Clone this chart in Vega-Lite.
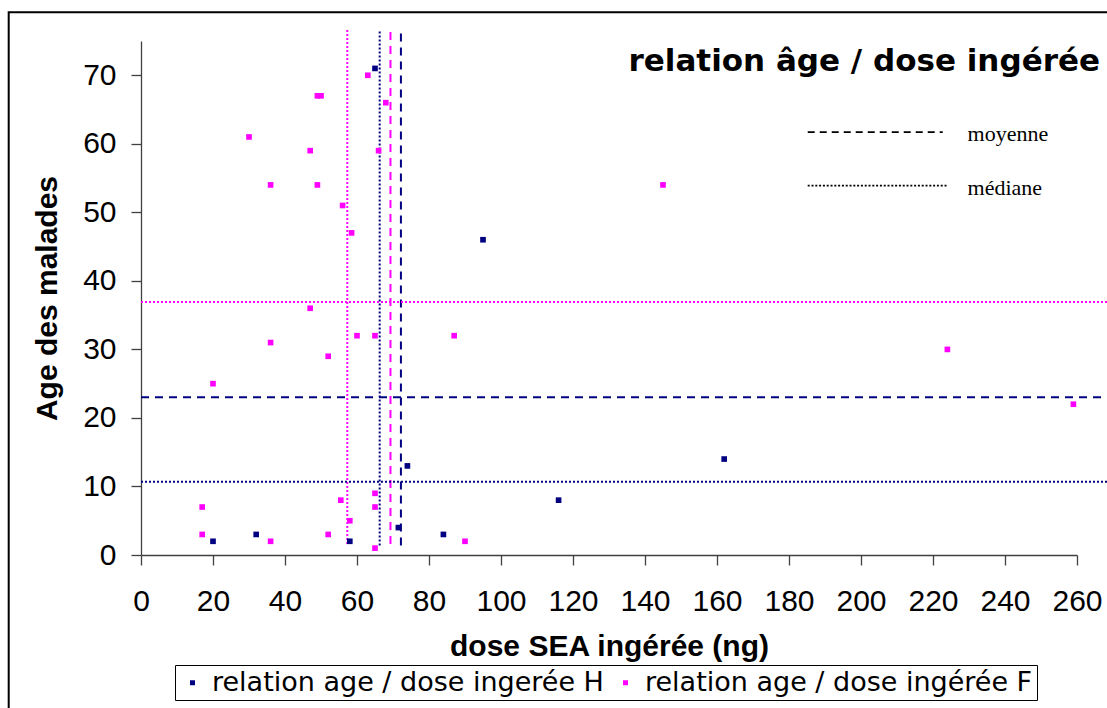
{
  "$schema": "https://vega.github.io/schema/vega-lite/v6.json",
  "width": 936,
  "height": 514,
  "autosize": {"type": "none"},
  "padding": {"left": 141, "top": 41, "right": 30, "bottom": 153},
  "background": "white",
  "config": {
    "view": {"stroke": null},
    "axis": {
      "grid": false,
      "domainColor": "#404040",
      "domainWidth": 1.3,
      "tickColor": "#404040",
      "tickWidth": 1.3,
      "tickSize": 10,
      "labelFont": "Liberation Sans",
      "labelFontSize": 30,
      "labelColor": "black",
      "titleFont": "Liberation Sans",
      "titleFontSize": 30,
      "titleFontWeight": "bold",
      "titleColor": "black"
    }
  },
  "datasets": {
    "points": [
      {"dose": 65, "age": 71, "serie": "relation age / dose ingerée H"},
      {"dose": 95, "age": 46, "serie": "relation age / dose ingerée H"},
      {"dose": 74, "age": 13, "serie": "relation age / dose ingerée H"},
      {"dose": 162, "age": 14, "serie": "relation age / dose ingerée H"},
      {"dose": 116, "age": 8, "serie": "relation age / dose ingerée H"},
      {"dose": 71.5, "age": 4, "serie": "relation age / dose ingerée H"},
      {"dose": 32, "age": 3, "serie": "relation age / dose ingerée H"},
      {"dose": 84, "age": 3, "serie": "relation age / dose ingerée H"},
      {"dose": 20, "age": 2, "serie": "relation age / dose ingerée H"},
      {"dose": 58, "age": 2, "serie": "relation age / dose ingerée H"},
      {"dose": 63, "age": 70, "serie": "relation age / dose ingérée F"},
      {"dose": 49, "age": 67, "serie": "relation age / dose ingérée F"},
      {"dose": 50, "age": 67, "serie": "relation age / dose ingérée F"},
      {"dose": 68, "age": 66, "serie": "relation age / dose ingérée F"},
      {"dose": 30, "age": 61, "serie": "relation age / dose ingérée F"},
      {"dose": 47, "age": 59, "serie": "relation age / dose ingérée F"},
      {"dose": 66, "age": 59, "serie": "relation age / dose ingérée F"},
      {"dose": 36, "age": 54, "serie": "relation age / dose ingérée F"},
      {"dose": 49, "age": 54, "serie": "relation age / dose ingérée F"},
      {"dose": 56, "age": 51, "serie": "relation age / dose ingérée F"},
      {"dose": 58.5, "age": 47, "serie": "relation age / dose ingérée F"},
      {"dose": 145, "age": 54, "serie": "relation age / dose ingérée F"},
      {"dose": 47, "age": 36, "serie": "relation age / dose ingérée F"},
      {"dose": 60, "age": 32, "serie": "relation age / dose ingérée F"},
      {"dose": 65, "age": 32, "serie": "relation age / dose ingérée F"},
      {"dose": 87, "age": 32, "serie": "relation age / dose ingérée F"},
      {"dose": 36, "age": 31, "serie": "relation age / dose ingérée F"},
      {"dose": 52, "age": 29, "serie": "relation age / dose ingérée F"},
      {"dose": 20, "age": 25, "serie": "relation age / dose ingérée F"},
      {"dose": 65, "age": 9, "serie": "relation age / dose ingérée F"},
      {"dose": 55.5, "age": 8, "serie": "relation age / dose ingérée F"},
      {"dose": 17, "age": 7, "serie": "relation age / dose ingérée F"},
      {"dose": 65, "age": 7, "serie": "relation age / dose ingérée F"},
      {"dose": 58, "age": 5, "serie": "relation age / dose ingérée F"},
      {"dose": 17, "age": 3, "serie": "relation age / dose ingérée F"},
      {"dose": 52, "age": 3, "serie": "relation age / dose ingérée F"},
      {"dose": 36, "age": 2, "serie": "relation age / dose ingérée F"},
      {"dose": 90, "age": 2, "serie": "relation age / dose ingérée F"},
      {"dose": 65, "age": 1, "serie": "relation age / dose ingérée F"},
      {"dose": 224, "age": 30, "serie": "relation age / dose ingérée F"},
      {"dose": 259, "age": 22, "serie": "relation age / dose ingérée F"}
    ],
    "stats": [
      {"sexe": "H", "stat": "moyenne", "axe": "dose", "valeur": 72.2},
      {"sexe": "H", "stat": "médiane", "axe": "dose", "valeur": 66.3},
      {"sexe": "F", "stat": "moyenne", "axe": "dose", "valeur": 69.3},
      {"sexe": "F", "stat": "médiane", "axe": "dose", "valeur": 57.3},
      {"sexe": "H", "stat": "moyenne", "axe": "age", "valeur": 23.0},
      {"sexe": "H", "stat": "médiane", "axe": "age", "valeur": 10.7},
      {"sexe": "F", "stat": "médiane", "axe": "age", "valeur": 36.9}
    ],
    "one": [{}]
  },
  "layer": [
    {
      "data": {"name": "one"},
      "mark": {"type": "rect", "fill": null, "stroke": "black", "strokeWidth": 2, "clip": false},
      "encoding": {
        "x": {"datum": -36.75, "type": "quantitative"},
        "x2": {"datum": 285},
        "y": {"datum": 79.2, "type": "quantitative"},
        "y2": {"datum": -30}
      }
    },
    {
      "data": {"name": "stats"},
      "transform": [{"filter": "datum.axe == 'dose' && datum.sexe == 'F'"}],
      "mark": {"type": "rule", "color": "#FF00FF", "strokeWidth": 2, "clip": false},
      "encoding": {
        "x": {"field": "valeur", "type": "quantitative"},
        "y": {"datum": 1.6, "type": "quantitative"},
        "y2": {"datum": 76.6},
        "strokeDash": {"field": "stat", "type": "nominal", "scale": {"domain": ["moyenne", "médiane"], "range": [[8, 6], [2, 2]]}, "legend": null}
      }
    },
    {
      "data": {"name": "stats"},
      "transform": [{"filter": "datum.axe == 'dose' && datum.sexe == 'H'"}],
      "mark": {"type": "rule", "color": "#000080", "strokeWidth": 2, "clip": false},
      "encoding": {
        "x": {"field": "valeur", "type": "quantitative"},
        "y": {"datum": 1.4, "type": "quantitative"},
        "y2": {"datum": 76.6},
        "strokeDash": {"field": "stat", "type": "nominal", "legend": null}
      }
    },
    {
      "data": {"name": "stats"},
      "transform": [{"filter": "datum.axe == 'age' && datum.sexe == 'F'"}],
      "mark": {"type": "rule", "color": "#FF00FF", "strokeWidth": 2, "clip": false},
      "encoding": {
        "y": {"field": "valeur", "type": "quantitative"},
        "x": {"datum": 0, "type": "quantitative"},
        "x2": {"datum": 270},
        "strokeDash": {"field": "stat", "type": "nominal", "legend": null}
      }
    },
    {
      "data": {"name": "stats"},
      "transform": [{"filter": "datum.axe == 'age' && datum.sexe == 'H'"}],
      "mark": {"type": "rule", "color": "#000080", "strokeWidth": 2, "clip": false},
      "encoding": {
        "y": {"field": "valeur", "type": "quantitative"},
        "x": {"datum": 0, "type": "quantitative"},
        "x2": {"datum": 270},
        "strokeDash": {"field": "stat", "type": "nominal", "legend": null}
      }
    },
    {
      "data": {"name": "points"},
      "mark": {"type": "square", "filled": true, "opacity": 1, "size": 32},
      "encoding": {
        "x": {
          "field": "dose", "type": "quantitative",
          "scale": {"domain": [0, 260], "nice": false, "zero": true},
          "axis": {"values": [0, 20, 40, 60, 80, 100, 120, 140, 160, 180, 200, 220, 240, 260], "title": "dose SEA ingérée (ng)", "labelPadding": 21, "titlePadding": 15, "labelFlush": false}
        },
        "y": {
          "field": "age", "type": "quantitative",
          "scale": {"domain": [0, 75], "nice": false},
          "axis": {"values": [0, 10, 20, 30, 40, 50, 60, 70], "title": "Age des malades", "labelPadding": 15, "titlePadding": 20, "labelFlush": false}
        },
        "color": {
          "field": "serie", "type": "nominal",
          "scale": {"domain": ["relation age / dose ingerée H", "relation age / dose ingérée F"], "range": ["#000080", "#FF00FF"]},
          "legend": {
            "title": null,
            "orient": "none",
            "direction": "horizontal",
            "legendX": 34,
            "legendY": 624,
            "strokeColor": "black",
            "fillColor": "white",
            "padding": 4,
            "symbolType": "square",
            "symbolSize": 25,
            "symbolOffset": 0,
            "symbolStrokeWidth": 0,
            "labelFont": "DejaVu Sans",
            "labelFontSize": 27,
            "labelColor": "black",
            "labelOffset": 6,
            "labelLimit": 600,
            "columnPadding": 8
          }
        }
      }
    },
    {
      "data": {"name": "one"},
      "mark": {"type": "text", "text": "relation âge / dose ingérée", "font": "DejaVu Sans", "fontWeight": "bold", "fontSize": 31, "align": "right", "baseline": "middle", "dx": 23, "clip": false},
      "encoding": {"x": {"datum": 260, "type": "quantitative"}, "y": {"datum": 71.9, "type": "quantitative"}}
    },
    {
      "data": {"name": "one"},
      "mark": {"type": "rule", "color": "black", "strokeWidth": 1.6, "strokeDash": [7, 5]},
      "encoding": {"x": {"datum": 185.2, "type": "quantitative"}, "x2": {"datum": 222.7}, "y": {"datum": 61.7, "type": "quantitative"}}
    },
    {
      "data": {"name": "one"},
      "mark": {"type": "rule", "color": "black", "strokeWidth": 1.7, "strokeDash": [2, 1.8]},
      "encoding": {"x": {"datum": 185.2, "type": "quantitative"}, "x2": {"datum": 224}, "y": {"datum": 53.9, "type": "quantitative"}}
    },
    {
      "data": {"name": "one"},
      "mark": {"type": "text", "text": "moyenne", "font": "Liberation Serif", "fontSize": 22, "align": "left", "baseline": "middle"},
      "encoding": {"x": {"datum": 229.6, "type": "quantitative"}, "y": {"datum": 61.4, "type": "quantitative"}}
    },
    {
      "data": {"name": "one"},
      "mark": {"type": "text", "text": "médiane", "font": "Liberation Serif", "fontSize": 22, "align": "left", "baseline": "middle"},
      "encoding": {"x": {"datum": 229.6, "type": "quantitative"}, "y": {"datum": 53.6, "type": "quantitative"}}
    }
  ]
}
